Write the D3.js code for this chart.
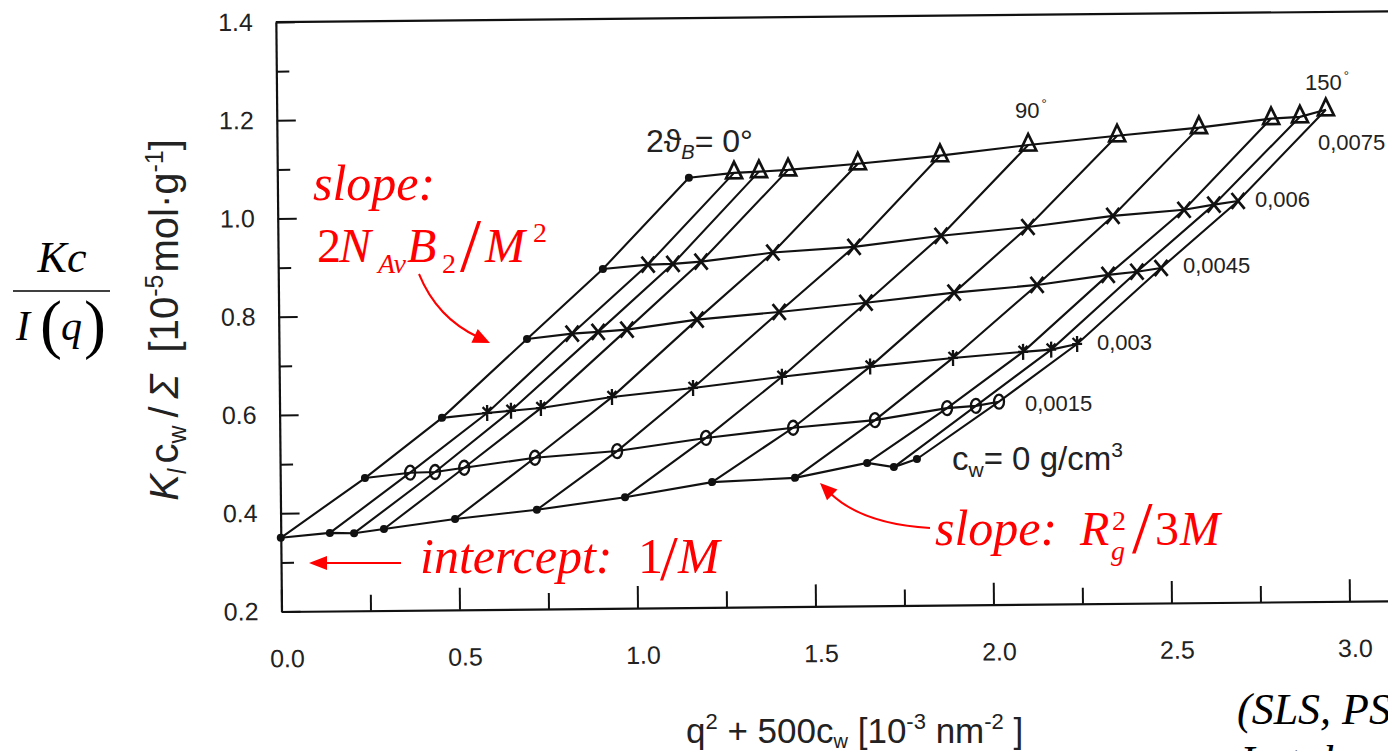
<!DOCTYPE html>
<html>
<head>
<meta charset="utf-8">
<script src="https://cdn.jsdelivr.net/npm/d3@7"></script>
<style>
  html, body { margin: 0; padding: 0; background: #fff; }
  svg { display: block; }
</style>
</head>
<body>
<svg id="chart" width="1388" height="751"></svg>
<script>
// Zimm plot: K c / Σ against q² + 500 c_w, one row per concentration,
// one column per scattering angle (0° = extrapolated, as is c_w = 0).
const concentrations = [0, 0.0015, 0.003, 0.0045, 0.006, 0.0075];
const angles = [0, 30, 37.5, 45, 60, 75, 90, 105, 120, 135, 142.5, 150];

const xC0    = [0.000, 0.138, 0.206, 0.290, 0.490, 0.720, 0.968, 1.213, 1.446, 1.649, 1.724, 1.789];
const yC0    = [0.350, 0.359, 0.358, 0.366, 0.385, 0.402, 0.426, 0.455, 0.462, 0.491, 0.482, 0.498];
const xC0015 = [0.238, 0.365, 0.435, 0.517, 0.716, 0.947, 1.197, 1.442, 1.672, 1.875, 1.956, 2.021];
const yC0015 = [0.470, 0.480, 0.481, 0.489, 0.508, 0.520, 0.545, 0.564, 0.578, 0.601, 0.605, 0.613];
const xC003  = [0.456, 0.583, 0.650, 0.734, 0.934, 1.162, 1.412, 1.660, 1.893, 2.090, 2.169, 2.242];
const yC003  = [0.591, 0.600, 0.604, 0.609, 0.630, 0.647, 0.668, 0.687, 0.703, 0.714, 0.718, 0.729];
const xC0045 = [0.697, 0.824, 0.897, 0.978, 1.175, 1.406, 1.650, 1.898, 2.131, 2.331, 2.412, 2.480];
const yC0045 = [0.750, 0.760, 0.763, 0.767, 0.786, 0.800, 0.817, 0.836, 0.850, 0.869, 0.875, 0.882];
const xC006  = [0.912, 1.039, 1.109, 1.188, 1.390, 1.618, 1.863, 2.107, 2.346, 2.546, 2.630, 2.698];
const yC006  = [0.891, 0.899, 0.900, 0.904, 0.921, 0.931, 0.952, 0.968, 0.989, 1.000, 1.010, 1.017];
const xC0075 = [1.156, 1.283, 1.353, 1.435, 1.631, 1.862, 2.110, 2.360, 2.590, 2.793, 2.874, 2.947];
const yC0075 = [1.075, 1.084, 1.086, 1.089, 1.100, 1.115, 1.135, 1.152, 1.167, 1.184, 1.187, 1.201];

const xTicksMajor = [0, 0.5, 1.0, 1.5, 2.0, 2.5, 3.0];
const xTicksMinor = [0.25, 0.75, 1.25, 1.75, 2.25, 2.75];
const yTicksMajor = [0.2, 0.4, 0.6, 0.8, 1.0, 1.2, 1.4];
const yTicksMinor = [0.3, 0.5, 0.7, 0.9, 1.1, 1.3];
const concLabels = ["0,0015", "0,003", "0,0045", "0,006", "0,0075"];

const xs = [xC0, xC0015, xC003, xC0045, xC006, xC0075];
const ys = [yC0, yC0015, yC003, yC0045, yC006, yC0075];

const SANS = "'Liberation Sans', Arial, Helvetica, 'DejaVu Sans', sans-serif";
const SERIF = "'Liberation Serif', 'Times New Roman', Times, serif";
const INK = "#111";
const TXT = "#222";
const RED = "#ff0000";

const svg = d3.select("#chart");

const x = d3.scaleLinear().domain([0, 3.2]).range([281.5, 281.5 + 356 * 3.2]);
const y = d3.scaleLinear().domain([0.2, 1.4]).range([611.5, 22]);

// the whole frame sits slightly tilted
const plot = svg.append("g").attr("transform", "rotate(-0.55 281.5 611.5)");

// ---- axes ----
function styleAxis(g) {
  g.selectAll("path.domain").attr("stroke", INK).attr("stroke-width", 2.2);
  g.selectAll(".tick line").attr("stroke", INK).attr("stroke-width", 2);
  g.selectAll(".tick text").attr("fill", TXT).attr("font-family", SANS).attr("font-size", 25);
}

plot.append("g")
  .attr("transform", `translate(0,${y(0.2)})`)
  .call(d3.axisBottom(x).tickValues(xTicksMajor).tickSizeInner(-22).tickSizeOuter(0)
        .tickPadding(38).tickFormat(d3.format(".1f")))
  .call(styleAxis)
  .call(g => g.selectAll(".tick text").attr("x", 5));

plot.append("g")
  .attr("transform", `translate(0,${y(0.2)})`)
  .call(d3.axisBottom(x).tickValues(xTicksMinor).tickSizeInner(-16).tickSizeOuter(0).tickFormat(""))
  .call(styleAxis)
  .call(g => g.select("path.domain").remove());

plot.append("g")
  .attr("transform", `translate(${x(0)},0)`)
  .call(d3.axisLeft(y).tickValues(yTicksMajor).tickSizeInner(-19).tickSizeOuter(0)
        .tickPadding(23).tickFormat(d3.format(".1f")))
  .call(styleAxis);

plot.append("g")
  .attr("transform", `translate(${x(0)},0)`)
  .call(d3.axisLeft(y).tickValues(yTicksMinor).tickSizeInner(-13).tickSizeOuter(0).tickFormat(""))
  .call(styleAxis)
  .call(g => g.select("path.domain").remove());

// top frame edge
plot.append("line")
  .attr("x1", x(0)).attr("x2", x(3.2))
  .attr("y1", y(1.4)).attr("y2", y(1.4))
  .attr("stroke", INK).attr("stroke-width", 2.2);

// ---- grid of lines ----
const line = d3.line().x(d => x(d[0])).y(d => y(d[1]));

const rows = concentrations.map((c, i) => angles.map((a, j) => [xs[i][j], ys[i][j]]));
const cols = angles.map((a, j) => concentrations.map((c, i) => [xs[i][j], ys[i][j]]));

plot.append("g").selectAll("path.row").data(rows).join("path")
  .attr("class", "row")
  .attr("d", line)
  .attr("fill", "none").attr("stroke", INK).attr("stroke-width", 2.1);

plot.append("g").selectAll("path.col").data(cols).join("path")
  .attr("class", "col")
  .attr("d", line)
  .attr("fill", "none").attr("stroke", INK).attr("stroke-width", 2.1);

// ---- markers ----
const points = [];
concentrations.forEach((c, i) => angles.forEach((a, j) => {
  points.push({ i, j, c, a, vx: xs[i][j], vy: ys[i][j] });
}));

const mk = plot.append("g");
points.forEach(p => {
  const g = mk.append("g").attr("transform", `translate(${x(p.vx)},${y(p.vy)})`);
  if (p.c === 0 || p.a === 0) {
    g.append("circle").attr("r", 4).attr("fill", INK);
  } else if (p.c === 0.0015) {
    g.append("ellipse").attr("rx", 5).attr("ry", 7)
      .attr("fill", "none").attr("stroke", INK).attr("stroke-width", 2.3);
  } else if (p.c === 0.003) {
    g.append("path").attr("d", "M0,-8V8M-4.5,-6L0,-1.5L4.5,-6M-5,0H5")
      .attr("fill", "none").attr("stroke", INK).attr("stroke-width", 2.3);
  } else if (p.c === 0.0045 || p.c === 0.006) {
    g.append("path").attr("d", "M-6.5,-8L6.5,8M-6.5,8L6.5,-8")
      .attr("fill", "none").attr("stroke", INK).attr("stroke-width", 2.7);
  } else {
    g.append("path").attr("d", "M0,-11L8,5.5L-8,5.5Z")
      .attr("fill", "none").attr("stroke", INK).attr("stroke-width", 2.7);
  }
});

// ---- labels inside the frame ----
function txt(parent, x0, y0, size, family) {
  return parent.append("text").attr("x", x0).attr("y", y0)
    .attr("font-size", size).attr("font-family", family || SANS).attr("fill", TXT);
}

// 2ϑ_B = 0°
{
  const t = txt(svg, 646, 152, 32);
  t.append("tspan").text("2ϑ");
  t.append("tspan").attr("font-size", 20).attr("font-style", "italic").attr("dy", 7).text("B");
  t.append("tspan").attr("dy", -7).text("= 0°");
}

// angle labels
{
  const t = txt(svg, 1015, 118, 22);
  t.append("tspan").text("90");
  t.append("tspan").attr("font-size", 13).attr("dy", -10).attr("dx", 2).text("°");
  const u = txt(svg, 1305, 90, 22);
  u.append("tspan").text("150");
  u.append("tspan").attr("font-size", 13).attr("dy", -10).attr("dx", 2).text("°");
}

// concentration labels
{
  const pos = [[1025, 411], [1097, 350], [1183, 273], [1255, 207], [1318, 150]];
  concLabels.forEach((s, k) => txt(svg, pos[k][0], pos[k][1], 22).text(s));
  const t = txt(svg, 952, 470, 33);
  t.append("tspan").text("c");
  t.append("tspan").attr("font-size", 21).attr("dy", 7).text("w");
  t.append("tspan").attr("dy", -7).text("= 0 g/cm");
  t.append("tspan").attr("font-size", 21).attr("dy", -13).text("3");
}

// ---- axis titles ----
{
  const t = svg.append("text")
    .attr("transform", "translate(178,320) rotate(-90)")
    .attr("text-anchor", "middle")
    .attr("font-family", SANS).attr("font-size", 40).attr("fill", TXT);
  t.append("tspan").attr("font-style", "italic").text("K");
  t.append("tspan").attr("font-style", "italic").attr("font-size", 25).attr("dy", 8).text("l");
  t.append("tspan").attr("dy", -8).attr("dx", 5).text("c");
  t.append("tspan").attr("font-size", 25).attr("dy", 8).text("w");
  t.append("tspan").attr("dy", -8).attr("dx", 8).text("/");
  t.append("tspan").attr("dx", 8).attr("font-style", "italic").text("Σ");
  t.append("tspan").attr("dx", 22).text("[10");
  t.append("tspan").attr("font-size", 25).attr("dy", -15).text("-5");
  t.append("tspan").attr("dy", 15).attr("dx", 2).text("mol·g");
  t.append("tspan").attr("font-size", 25).attr("dy", -15).text("-1");
  t.append("tspan").attr("dy", 15).text("]");
}
{
  const t = txt(svg, 686, 743, 35);
  t.append("tspan").text("q");
  t.append("tspan").attr("font-size", 22).attr("dy", -14).text("2");
  t.append("tspan").attr("dy", 14).text(" + 500c");
  t.append("tspan").attr("font-size", 20).attr("dy", 5).text("w");
  t.append("tspan").attr("dy", -5).text(" [10");
  t.append("tspan").attr("font-size", 22).attr("dy", -14).text("-3");
  t.append("tspan").attr("dy", 14).text(" nm");
  t.append("tspan").attr("font-size", 22).attr("dy", -14).text("-2");
  t.append("tspan").attr("dy", 14).text(" ]");
}

// ---- Kc / I(q) ----
{
  const f = svg.append("g").attr("fill", "#000").attr("font-family", SERIF);
  f.append("text").attr("x", 62).attr("y", 272).attr("text-anchor", "middle")
    .attr("font-size", 44).attr("font-style", "italic").text("Kc");
  f.append("line").attr("x1", 13).attr("x2", 110).attr("y1", 291).attr("y2", 291)
    .attr("stroke", "#000").attr("stroke-width", 1.6);
  const d = f.append("text").attr("x", 16).attr("y", 340).attr("font-size", 42);
  d.append("tspan").attr("font-style", "italic").text("I");
  d.append("tspan").attr("x", 40).attr("dy", 6).attr("font-size", 66).text("(");
  d.append("tspan").attr("x", 61).attr("dy", -6).attr("font-style", "italic").text("q");
  d.append("tspan").attr("x", 84).attr("dy", 6).attr("font-size", 66).text(")");
}

// ---- red annotations ----
const red = svg.append("g").attr("fill", RED).attr("font-family", SERIF);
// a formula as one text element: pieces of [x, dy, size, italic, string]
function formula(y0, pieces) {
  const t = red.append("text").attr("y", y0);
  pieces.forEach(([px, dy, size, italic, s]) => {
    t.append("tspan").attr("x", px).attr("dy", dy).attr("font-size", size)
      .attr("font-style", italic ? "italic" : "normal").text(s);
  });
  return t;
}
function arrowHead(tip, dir, len, half) {
  const n = Math.hypot(dir[0], dir[1]);
  const ux = dir[0] / n, uy = dir[1] / n;
  const bx = tip[0] - ux * len, by = tip[1] - uy * len;
  const px = -uy * half, py = ux * half;
  red.append("path")
    .attr("d", `M${tip[0]},${tip[1]}L${bx + px},${by + py}L${bx - px},${by - py}Z`)
    .attr("fill", RED);
}

// slope: 2 N_Av B_2 / M^2
formula(200, [[313, 0, 50, true, "slope:"]]);
formula(262, [
  [317, 0, 48, false, "2"],
  [339, 0, 48, true, "N"],
  [378, 11, 28, true, "Av"],
  [407, -11, 48, true, "B"],
  [442, 11, 28, false, "2"],
  [460, -2, 76, false, "/"],
  [485, -9, 48, true, "M"],
  [533, -20, 28, false, "2"]
]);
red.append("path").attr("d", "M419,274Q437,318 478,337")
  .attr("fill", "none").attr("stroke", RED).attr("stroke-width", 2);
arrowHead([490, 343], [41, 19], 17, 7.5);

// intercept: 1/M
formula(573, [
  [420, 0, 50, true, "intercept:"],
  [638, 0, 50, false, "1"],
  [660, 7, 64, false, "/"],
  [678, -7, 50, true, "M"]
]);
red.append("line").attr("x1", 401).attr("x2", 322).attr("y1", 563).attr("y2", 563)
  .attr("stroke", RED).attr("stroke-width", 2);
arrowHead([309, 563], [-1, 0], 18, 7);

// slope: R_g^2 / 3M
formula(545, [
  [935, 0, 50, true, "slope:"],
  [1080, 0, 48, true, "R"],
  [1111, 15, 28, true, "g"],
  [1112, -30, 28, false, "2"],
  [1132, 23, 74, false, "/"],
  [1155, -8, 48, false, "3"],
  [1180, 0, 48, true, "M"]
]);
red.append("path").attr("d", "M930,528Q862,524 830,493")
  .attr("fill", "none").attr("stroke", RED).attr("stroke-width", 2);
arrowHead([820, 483], [-32, -31], 17, 7.5);

// source note
{
  const g = svg.append("g").attr("fill", "#000").attr("font-family", SERIF).attr("font-style", "italic");
  g.append("text").attr("x", 1237).attr("y", 724).attr("font-size", 44).text("(SLS, PS");
  g.append("text").attr("x", 1240).attr("y", 776).attr("font-size", 44).text("In toluene)");
}
</script>
</body>
</html>
